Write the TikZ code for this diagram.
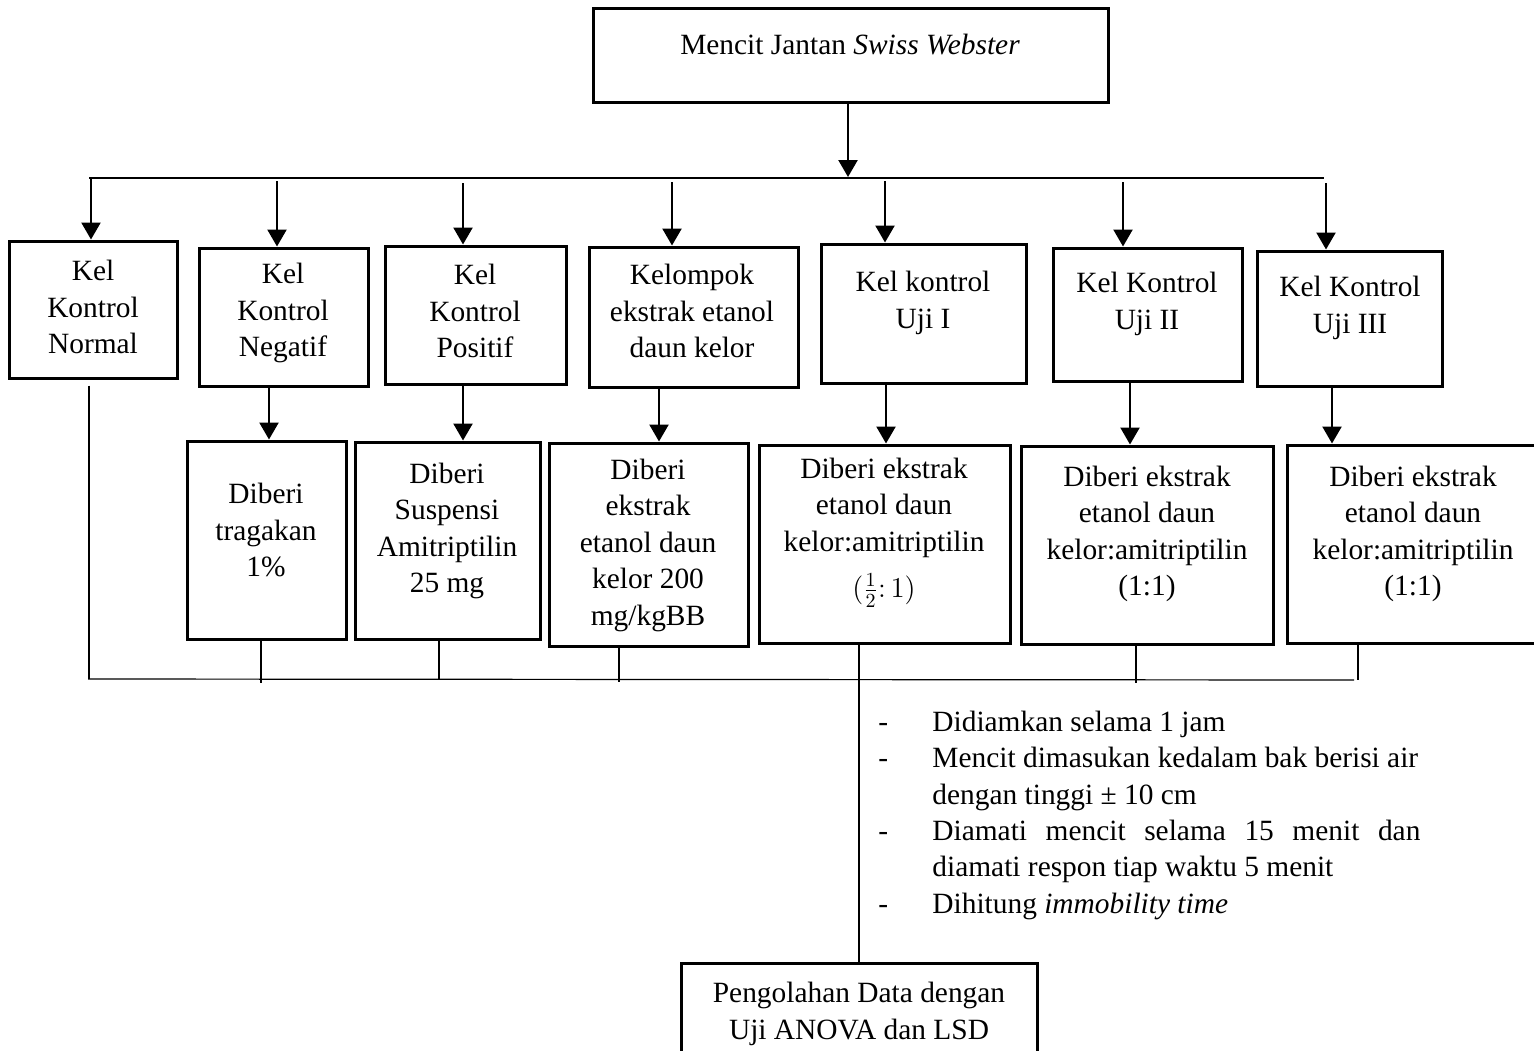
\documentclass[tikz,border=0pt]{standalone}
\usepackage{fontspec}
\setmainfont{Liberation Serif}
\usetikzlibrary{arrows.meta}
\newcommand\mybox[5]{\node[boxst, minimum width={(#4-#2)*0.5pt}, minimum height={(#5-#3)*0.5pt}] (#1) at ({(#2+#4)/2},{(#3+#5)/2}) {};}
\begin{document}
\begin{tikzpicture}[x=0.5pt,y=-0.5pt,
  boxst/.style={draw, line width=1.5pt, inner sep=0pt},
  txt/.style={align=center, inner sep=0pt, font=\fontsize{14.7pt}{18.25pt}\selectfont},
  arr/.style={line width=1.2pt, -{Triangle[width=9.5pt,length=8.5pt]}},
  thin/.style={line width=0.6pt},
  busln/.style={line width=0.75pt}]
\useasboundingbox (0,0) rectangle (1534,1050);
\clip (0,0) rectangle (1534,1050);
% top
\mybox{top}{593}{8}{1108}{102}
\node[txt] (ttop) at (850,45) {Mencit Jantan \textit{Swiss Webster}};
% row 1
\mybox{b1}{9}{241}{177}{378}
\mybox{b2}{199}{248}{368}{386}
\mybox{b3}{385}{246}{566}{384}
\mybox{b4}{589}{247}{798}{387}
\mybox{b5}{821}{244}{1026}{383}
\mybox{b6}{1053}{248}{1242}{381}
\mybox{b7}{1257}{251}{1442}{386}
\node[txt] (tb1) at (93,307) {Kel\\Kontrol\\Normal};
\node[txt] (tb2) at (283,313) {Kel\\Kontrol\\Negatif};
\node[txt] (tb3) at (475,311) {Kel\\Kontrol\\Positif};
\node[txt] (tb4) at (692,311) {Kelompok\\ekstrak etanol\\daun kelor};
\node[txt] (tb5) at (923,303) {Kel kontrol\\Uji I};
\node[txt] (tb6) at (1147,304) {Kel Kontrol\\Uji II};
\node[txt] (tb7) at (1350,308) {Kel Kontrol\\Uji III};
% row 2
\mybox{c1}{187}{441}{346}{639}
\mybox{c2}{355}{442}{540}{639}
\mybox{c3}{549}{443}{748}{646}
\mybox{c4}{759}{445}{1010}{643}
\mybox{c5}{1021}{446}{1273}{644}
\mybox{c6}{1287}{445}{1560}{643}
\node[txt] (tc1) at (266,530) {Diberi\\tragakan\\1\%};
\node[txt] (tc2) at (447,531) {Diberi\\Suspensi\\Amitriptilin\\25 mg};
\node[txt] (tc3) at (648,545) {Diberi\\ekstrak\\etanol daun\\kelor 200\\mg/kgBB};
\node[txt] (tc4) at (884,533) {Diberi ekstrak\\etanol daun\\kelor:amitriptilin\\[5pt]$(\frac{1}{2}\colon 1)$};
\node[txt] (tc5) at (1147,534) {Diberi ekstrak\\etanol daun\\kelor:amitriptilin\\(1:1)};
\node[txt] (tc6) at (1413,534) {Diberi ekstrak\\etanol daun\\kelor:amitriptilin\\(1:1)};
% final
\mybox{fin}{681}{963}{1037}{1090}
\node[txt] (tfin) at (859,1014) {Pengolahan Data dengan\\Uji ANOVA dan LSD};
% steps
\begin{scope}[every node/.style={txt, anchor=base west}]
\node (d1) at (878,731) {-};
\node (s1) at (932,731) {Didiamkan selama 1 jam};
\node (d2) at (878,767) {-};
\node (s2) at (932,767) {Mencit dimasukan kedalam bak berisi air};
\node (s3) at (932,804) {dengan tinggi ± 10 cm};
\node (d4) at (878,840) {-};
\node (s4) at (932,840) {\makebox[244pt][s]{Diamati mencit selama 15 menit dan}};
\node (s5) at (932,876) {diamati respon tiap waktu 5 menit};
\node (d6) at (878,913) {-};
\node (s6) at (932,913) {Dihitung \textit{immobility time}};
\end{scope}
% top bus
\coordinate (busT) at (848,177);
\coordinate (busL) at (89,178);
\coordinate (busR) at (1324,178);
\draw[arr] (top.south -| busT) -- (busT);
\draw[busln] (busL) -- (busR);
\foreach \n/\x/\y in {b1/91/178, b2/277/181, b3/463/183, b4/672/182, b5/885/181, b6/1123/182, b7/1326/183}{
  \path (\x,\y) coordinate (tmp);
  \draw[arr] (tmp) -- (tmp |- \n.north);
}
% row 1 -> row 2
\foreach \a/\b/\x in {b2/c1/269, b3/c2/463, b4/c3/659, b5/c4/886, b6/c5/1130, b7/c6/1332}{
  \path (\x,0) coordinate (tmp);
  \draw[arr] (tmp |- \a.south) -- (tmp |- \b.north);
}
% bottom bus
\coordinate (busBL) at (88,679);
\coordinate (busBR) at (1354,680);
\draw[thin] (busBL) -- (busBR);
\path (89,0) coordinate (v1);
\draw[thin] (v1 |- b1.south) ++(0,6) -- (v1 |- busBL);
\foreach \n/\x/\e in {c1/261/683, c2/439/680, c3/619/682, c5/1136/683, c6/1358/680}{
  \path (\x,\e) coordinate (tmp);
  \draw[thin] (tmp |- \n.south) -- (tmp);
}
\draw[thin] (c4.south -| fin.north) -- (fin.north);
\end{tikzpicture}
\end{document}
